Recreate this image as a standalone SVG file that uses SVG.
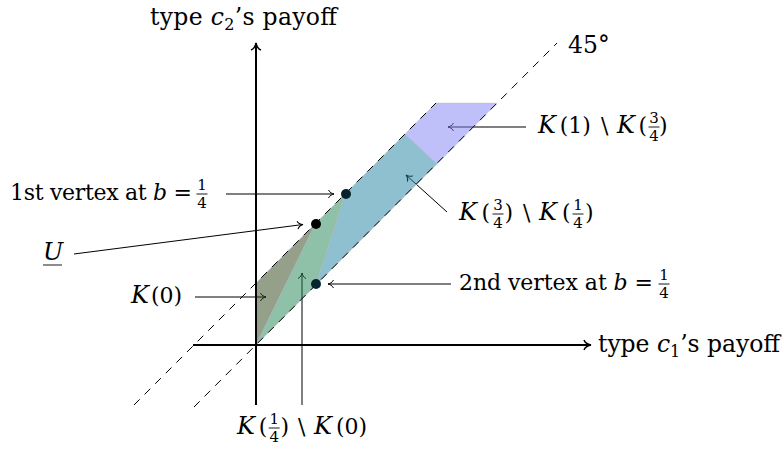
<svg xmlns="http://www.w3.org/2000/svg" width="782" height="451" viewBox="0 0 782 451">
<defs>
<style>
text{fill:#000;font-family:'DejaVu Serif',serif}
.ax{font-size:23.5px}
.lb{font-size:22px}
.i{font-style:italic}
.k{font-style:italic;font-size:24px}
.fr{font-size:15px;text-anchor:middle}
.arr{stroke:#000;stroke-width:1;fill:none;marker-end:url(#ah)}
.axis{stroke:#000;stroke-width:2;fill:none;marker-end:url(#ahb)}
.dash{stroke:#000;stroke-width:1;stroke-dasharray:8 7;fill:none}
.bar{stroke:#000;stroke-width:0.9}
.reg{stroke:#b8c0c8;stroke-width:0.8;stroke-opacity:0.6}
</style>
<marker id="ah" viewBox="-8 -6 10 12" refX="0" refY="0" markerWidth="10" markerHeight="12" markerUnits="userSpaceOnUse" orient="auto">
<path d="M-5.5,-4 C-4.5,-1.5 -1.5,-0.3 0,0 C-1.5,0.3 -4.5,1.5 -5.5,4" fill="none" stroke="#000" stroke-width="1"/>
</marker>
<marker id="ahb" viewBox="-10 -7 12 14" refX="0" refY="0" markerWidth="12" markerHeight="14" markerUnits="userSpaceOnUse" orient="auto">
<path d="M-7,-5 C-6,-2 -2,-0.4 0,0 C-2,0.4 -6,2 -7,5" fill="none" stroke="#000" stroke-width="1.4"/>
</marker>
</defs>

<g id="connectors">
<line class="arr" x1="226" y1="194" x2="334" y2="194"/>
<line class="arr" x1="74" y1="254" x2="303" y2="224.5"/>
<line class="arr" x1="195" y1="297" x2="266" y2="297"/>
<line class="arr" x1="302" y1="405" x2="302" y2="273"/>
<line class="arr" x1="451" y1="284" x2="328" y2="284"/>
<line class="arr" x1="447" y1="212" x2="406" y2="175"/>
<line class="arr" x1="526" y1="127" x2="448" y2="127"/>
</g>

<g id="regions">
<polygon id="K0" class="reg" points="256,345 256,283 316,223" fill="#2b4117" fill-opacity="0.5"/>
<polygon id="K14" class="reg" points="256,345 316,223 346,193 316,285" fill="#1f8151" fill-opacity="0.5"/>
<polygon id="K34" class="reg" points="346,193 405,134 437,164 316,285" fill="#1f81a1" fill-opacity="0.5"/>
<polygon id="K1" class="reg" points="405,134 436,103 497,103 437,164" fill="#7f7ff5" fill-opacity="0.5"/>
</g>

<g id="lines">
<line class="dash" x1="134" y1="405" x2="436" y2="103"/>
<line class="dash" x1="194" y1="407" x2="557" y2="43"/>
<line class="axis" x1="193" y1="345" x2="591" y2="345"/>
<line class="axis" x1="256" y1="405" x2="256" y2="43"/>
</g>

<g id="dots">
<circle id="U" cx="316" cy="224" r="5" fill="#000"/>
<circle id="v1" cx="346" cy="194" r="5" fill="#07222b"/>
<circle id="v2" cx="316" cy="284" r="5" fill="#07262f"/>
</g>

<g id="axis-labels">
<text class="ax" x="150" y="25" textLength="187">type <tspan class="i">c</tspan><tspan font-size="16" dy="5">2</tspan><tspan dy="-5">’s payoff</tspan></text>
<text class="ax" x="598" y="352" textLength="182">type <tspan class="i">c</tspan><tspan font-size="16" dy="5">1</tspan><tspan dy="-5">’s payoff</tspan></text>
<text class="ax" x="568" y="53">45°</text>
</g>

<g id="label-v1">
<text class="lb" x="10" y="200" textLength="182">1st vertex at <tspan class="i">b</tspan> =</text>
<text class="fr" x="202" y="190">1</text><line class="bar" x1="196.5" y1="194" x2="207.5" y2="194"/><text class="fr" x="202" y="207.5">4</text>
</g>

<g id="label-v2">
<text class="lb" x="459" y="290" textLength="194">2nd vertex at <tspan class="i">b</tspan> =</text>
<text class="fr" x="664" y="280">1</text><line class="bar" x1="658.5" y1="284" x2="669.5" y2="284"/><text class="fr" x="664" y="297.5">4</text>
</g>

<g id="label-U">
<text class="i" font-size="24" x="43" y="260">U</text>
<line class="bar" x1="43" y1="265" x2="62" y2="265"/>
</g>

<g id="label-K0">
<text class="lb" y="303"><tspan class="k" x="131">K</tspan><tspan x="151">(0)</tspan></text>
</g>

<g id="label-K14-K0">
<text class="lb" y="434"><tspan class="k" x="237">K</tspan><tspan x="258.7">(</tspan><tspan x="280.5">)</tspan><tspan x="298">\</tspan><tspan class="k" x="314">K</tspan><tspan x="336">(0)</tspan></text>
<text class="fr" x="274.2" y="424">1</text><line class="bar" x1="268.7" y1="428" x2="279.7" y2="428"/><text class="fr" x="274.2" y="441.5">4</text>
</g>

<g id="label-K34-K14">
<text class="lb" y="220"><tspan class="k" x="459">K</tspan><tspan x="481.5">(</tspan><tspan x="504.5">)</tspan><tspan x="523">\</tspan><tspan class="k" x="539">K</tspan><tspan x="562">(</tspan><tspan x="585">)</tspan></text>
<text class="fr" x="498" y="210">3</text><line class="bar" x1="492.5" y1="214" x2="503.5" y2="214"/><text class="fr" x="498" y="227.5">4</text>
<text class="fr" x="578" y="210">1</text><line class="bar" x1="572.5" y1="214" x2="583.5" y2="214"/><text class="fr" x="578" y="227.5">4</text>
</g>

<g id="label-K1-K34">
<text class="lb" y="133"><tspan class="k" x="538">K</tspan><tspan x="559.7">(1)</tspan><tspan x="601">\</tspan><tspan class="k" x="617">K</tspan><tspan x="638.6">(</tspan><tspan x="659">)</tspan></text>
<text class="fr" x="654" y="123">3</text><line class="bar" x1="648.5" y1="127" x2="659.5" y2="127"/><text class="fr" x="654" y="140.5">4</text>
</g>
</svg>
